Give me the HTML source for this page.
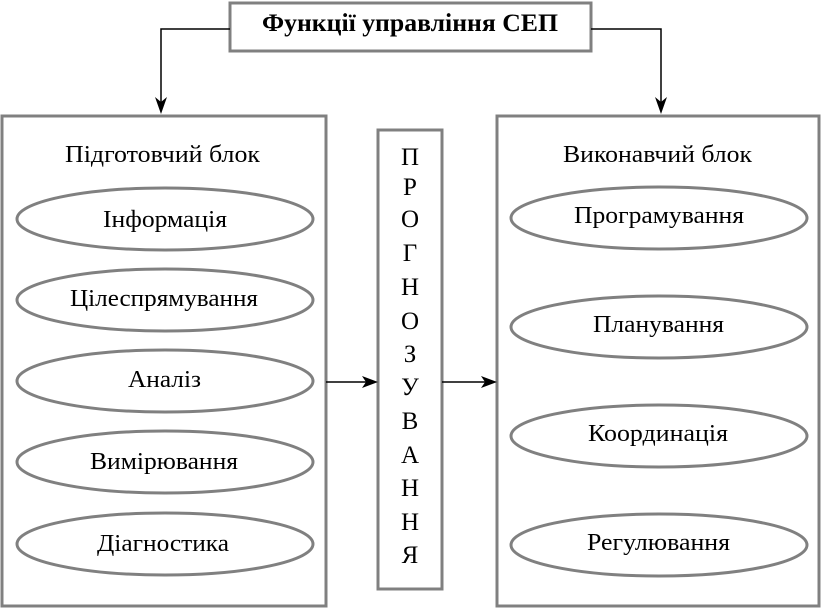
<!DOCTYPE html>
<html><head><meta charset="utf-8"><style>
html,body{margin:0;padding:0;background:#fff;}
svg{display:block;}
text{font-family:"Liberation Serif","Noto Serif CJK SC",serif;fill:#000;}
</style></head><body>
<svg width="821" height="609" viewBox="0 0 821 609" xmlns="http://www.w3.org/2000/svg">
<g fill="none" stroke="#808080" stroke-width="3">
<rect x="230" y="3" width="361" height="48"/>
<rect x="2" y="116" width="324" height="490"/>
<rect x="378" y="130" width="64" height="459"/>
<rect x="497" y="116" width="322" height="490"/>
<ellipse cx="165" cy="219" rx="148" ry="31"/>
<ellipse cx="165" cy="300" rx="148" ry="31"/>
<ellipse cx="165" cy="381" rx="148" ry="31"/>
<ellipse cx="165" cy="462" rx="148" ry="31"/>
<ellipse cx="165" cy="544" rx="148" ry="31"/>
<ellipse cx="659" cy="218" rx="148" ry="31"/>
<ellipse cx="659" cy="327" rx="148" ry="31"/>
<ellipse cx="659" cy="436" rx="148" ry="31"/>
<ellipse cx="659" cy="545" rx="148" ry="31"/>
</g>
<g fill="none" stroke="#000" stroke-width="1.5">
<polyline points="230,29 161,29 161,108"/>
<polyline points="591,29 661,29 661,108"/>
<line x1="326" y1="382" x2="372" y2="382"/>
<line x1="442" y1="382" x2="491" y2="382"/>
</g>
<g fill="#000">
<polygon points="155,97 161,114 167,97 161,102"/>
<polygon points="655,97 661,114 667,97 661,102"/>
<polygon points="362,376 378,382 362,388 366,382"/>
<polygon points="481,376 497,382 481,388 485,382"/>
</g>
<text x="262" y="31" font-size="25" font-weight="bold" textLength="296" lengthAdjust="spacingAndGlyphs">Функції управління СЕП</text>
<g font-size="24">
<text x="65" y="162" textLength="195" lengthAdjust="spacingAndGlyphs">Підготовчий блок</text>
<text x="103" y="227" textLength="124" lengthAdjust="spacingAndGlyphs">Інформація</text>
<text x="70" y="306" textLength="188" lengthAdjust="spacingAndGlyphs">Цілеспрямування</text>
<text x="128" y="387" textLength="73" lengthAdjust="spacingAndGlyphs">Аналіз</text>
<text x="90" y="469" textLength="148" lengthAdjust="spacingAndGlyphs">Вимірювання</text>
<text x="97" y="551" textLength="132" lengthAdjust="spacingAndGlyphs">Діагностика</text>
<text x="563" y="162" textLength="189" lengthAdjust="spacingAndGlyphs">Виконавчий блок</text>
<text x="574" y="223" textLength="170" lengthAdjust="spacingAndGlyphs">Програмування</text>
<text x="593" y="332" textLength="131" lengthAdjust="spacingAndGlyphs">Планування</text>
<text x="588" y="441" textLength="140" lengthAdjust="spacingAndGlyphs">Координація</text>
<text x="587" y="550" textLength="143" lengthAdjust="spacingAndGlyphs">Регулювання</text>
</g>
<g font-size="25" text-anchor="middle">
<text x="410" y="165">П</text>
<text x="410" y="195">Р</text>
<text x="410" y="227">О</text>
<text x="410" y="261">Г</text>
<text x="410" y="295">Н</text>
<text x="410" y="329">О</text>
<text x="410" y="362">З</text>
<text x="410" y="395">У</text>
<text x="410" y="429">В</text>
<text x="410" y="463">А</text>
<text x="410" y="496">Н</text>
<text x="410" y="530">Н</text>
<text x="410" y="563">Я</text>
</g>
</svg>
</body></html>
